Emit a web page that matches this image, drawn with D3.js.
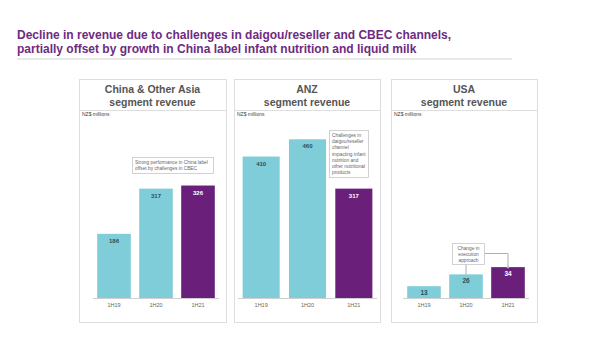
<!DOCTYPE html>
<html><head><meta charset="utf-8">
<script src="https://cdn.jsdelivr.net/npm/d3@7"></script>
<style>body{margin:0;background:#fff}svg{display:block;font-family:"Liberation Sans",Arial,sans-serif}</style>
</head><body>
<svg id="c" width="600" height="351"></svg>
<script>
const titleLines = ["Decline in revenue due to challenges in daigou/reseller and CBEC channels,",
                    "partially offset by growth in China label infant nutrition and liquid milk"];
const categories = ["1H19", "1H20", "1H21"];
const panelTitles = [["China & Other Asia", "segment revenue"], ["ANZ", "segment revenue"], ["USA", "segment revenue"]];
const unitLabel = "NZ$ millions";
const chinaValues = [186, 317, 326];
const anzValues = [410, 460, 317];
const usaValues = [13, 26, 34];
const chinaNote = ["Strong performance in China label", "offset by challenges in CBEC"];
const anzNote = ["Challenges in", "daigou/reseller", "channel", "impacting infant", "nutrition and", "other nutritional", "products"];
const usaNote = ["Change in", "execution", "approach"];

const svg = d3.select("#c");
const PURPLE_T = "#6e2b82", TEAL = "#7ecdd8", PURPLE = "#6a1f7a", GRAY = "#555";

svg.append("g").selectAll("text").data(titleLines).join("text")
  .attr("x", 17).attr("y", (d, i) => 39 + i * 14)
  .attr("font-size", 12).attr("font-weight", "bold").attr("fill", PURPLE_T).text(d => d);
svg.append("line").attr("x1", 17).attr("x2", 512).attr("y1", 59).attr("y2", 59)
  .attr("stroke", "#e2e2e2").attr("stroke-width", 1.5);

const panels = [
  {box: [79, 226], axis: [93, 219], values: chinaValues, max: 500, title: panelTitles[0]},
  {box: [234, 380], axis: [238, 377], values: anzValues, max: 500, title: panelTitles[1]},
  {box: [391, 537], axis: [403, 529], values: usaValues, max: 190, title: panelTitles[2]}
];
const boxTop = 79, sepY = 110, boxBottom = 322, baseY = 298, plotTopY = 125.5;

panels.forEach((p, pi) => {
  const g = svg.append("g");
  g.append("rect").attr("x", p.box[0] + 0.5).attr("y", boxTop + 0.5)
    .attr("width", p.box[1] - p.box[0]).attr("height", boxBottom - boxTop)
    .attr("fill", "none").attr("stroke", "#dedede");
  g.append("line").attr("x1", p.box[0]).attr("x2", p.box[1]).attr("y1", sepY + 0.5).attr("y2", sepY + 0.5)
    .attr("stroke", "#dedede");
  const cx = (p.box[0] + p.box[1]) / 2;
  g.selectAll(".pt").data(p.title).join("text")
    .attr("x", cx).attr("y", (d, i) => 93 + i * 13).attr("text-anchor", "middle")
    .attr("font-size", 10.5).attr("font-weight", "bold").attr("fill", GRAY).text(d => d);
  g.append("text").attr("x", p.box[0] + 3).attr("y", 116).attr("font-size", 5).attr("fill", "#444").text(unitLabel);

  const x = d3.scaleBand().domain(categories).range(p.axis).paddingInner(0.2).paddingOuter(0.1);
  const y = d3.scaleLinear().domain([0, p.max]).range([baseY, plotTopY]);
  p.x = x; p.y = y;

  g.selectAll(".bar").data(p.values).join("rect")
    .attr("x", (d, i) => x(categories[i])).attr("width", x.bandwidth())
    .attr("y", d => y(d)).attr("height", d => baseY - y(d))
    .attr("fill", (d, i) => i === 2 ? PURPLE : TEAL);
  g.selectAll(".val").data(p.values).join("text")
    .attr("x", (d, i) => x(categories[i]) + x.bandwidth() / 2)
    .attr("y", d => y(d) + 9).attr("text-anchor", "middle")
    .attr("font-size", pi === 2 ? 6.5 : 6).attr("font-weight", "bold")
    .attr("fill", (d, i) => i === 2 ? "#fff" : "#2c4f5a").text(d => d);

  const ax = g.append("g").attr("transform", `translate(0,${baseY})`)
    .call(d3.axisBottom(x).tickSize(0).tickPadding(5));
  ax.select(".domain").attr("stroke", "#cfcfcf").attr("d", `M${p.axis[0]},0.5H${p.axis[1]}`);
  ax.selectAll("text").attr("font-size", 5.5).attr("fill", "#666").attr("font-family", "Liberation Sans, Arial, sans-serif");
});

// China note
(function () {
  const g = svg.append("g");
  g.append("rect").attr("x", 132.5).attr("y", 157.5).attr("width", 81).attr("height", 16)
    .attr("fill", "#fff").attr("stroke", "#c8c8c8").attr("stroke-width", 0.8);
  g.selectAll("text").data(chinaNote).join("text").attr("x", 135).attr("y", (d, i) => 164 + i * 6)
    .attr("font-size", 4.8).attr("fill", "#666").text(d => d);
})();
// ANZ note
(function () {
  const g = svg.append("g");
  g.append("rect").attr("x", 329.5).attr("y", 130.5).attr("width", 39).attr("height", 47)
    .attr("fill", "#fff").attr("stroke", "#c8c8c8").attr("stroke-width", 0.8);
  g.selectAll("text").data(anzNote).join("text").attr("x", 332).attr("y", (d, i) => 137 + i * 6.2)
    .attr("font-size", 4.8).attr("fill", "#666").text(d => d);
})();
// USA note with connectors
(function () {
  const p = panels[2];
  const g = svg.append("g");
  const b2 = p.x(categories[1]) + p.x.bandwidth() / 2;
  const b3 = p.x(categories[2]) + p.x.bandwidth() / 2;
  g.append("path").attr("d", `M${b2},264V${p.y(usaValues[1])}`).attr("stroke", "#999").attr("stroke-width", 0.8).attr("fill", "none");
  g.append("path").attr("d", `M484,253.5H${b3}V${p.y(usaValues[2])}`).attr("stroke", "#999").attr("stroke-width", 0.8).attr("fill", "none");
  g.append("circle").attr("cx", b3).attr("cy", p.y(usaValues[2])).attr("r", 1.2).attr("fill", "#bbb");
  g.append("rect").attr("x", 452.5).attr("y", 243.5).attr("width", 32).attr("height", 21)
    .attr("fill", "#fff").attr("stroke", "#c8c8c8").attr("stroke-width", 0.8);
  g.selectAll("text").data(usaNote).join("text").attr("x", 468.5).attr("y", (d, i) => 250 + i * 6)
    .attr("text-anchor", "middle").attr("font-size", 4.8).attr("fill", "#666").text(d => d);
})();
</script>
</body></html>
